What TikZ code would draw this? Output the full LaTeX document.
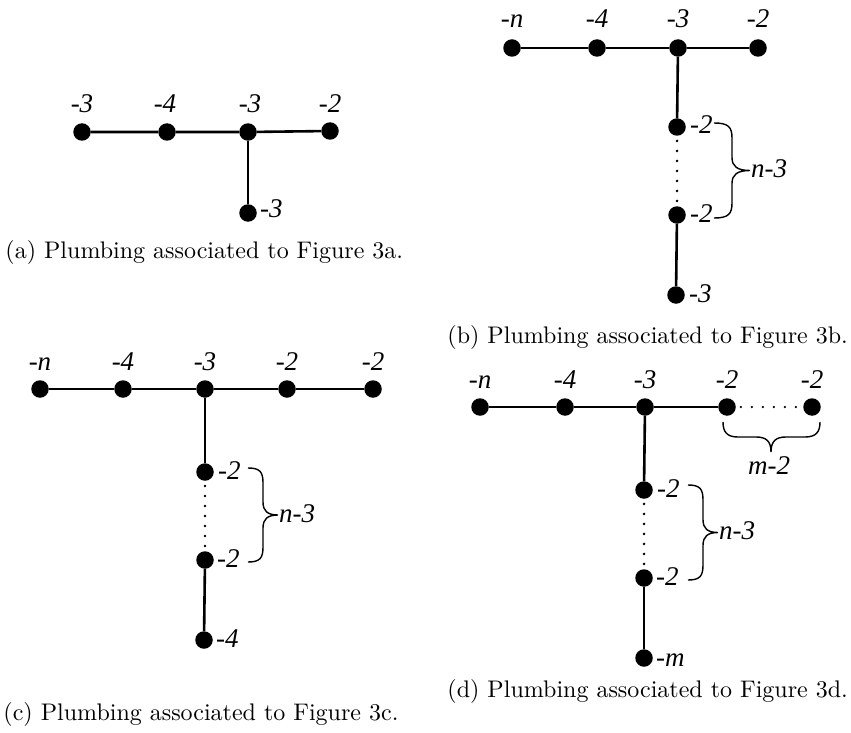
\documentclass[tikz,border=0pt]{standalone}
\usepackage{fontspec}
\newfontfamily\labelfont{Liberation Serif}[ItalicFont={Liberation Serif Italic}]
\tikzset{
  x=1pt, y=-1pt,
  vtx/.style={circle, fill=black, draw=none, inner sep=0pt, minimum size=17.5pt},
  solidedge/.style={line width=2.6pt},
  dotedge/.style={line width=2.9pt, line cap=round, dash pattern=on 0pt off 10pt, shorten <=5pt, shorten >=5pt},
  hdotedge/.style={line width=2.5pt, line cap=round, dash pattern=on 0pt off 11pt, shorten <=5pt, shorten >=4pt},
  bracestyle/.style={line width=1.4pt},
  lbl/.style={font=\labelfont\itshape\fontsize{27}{32}\selectfont, inner sep=0pt},
  toplbl/.style={lbl, anchor=base},
  caption/.style={font=\fontsize{10}{12}\selectfont, scale=2.4, inner sep=0pt, anchor=base west},
}
% vertical curly brace: x, top y, bottom y, depth, label, label name
\newcommand\plumbbrace[6]{%
  \pgfmathsetmacro\brx{#1}\pgfmathsetmacro\brt{#2}\pgfmathsetmacro\brb{#3}\pgfmathsetmacro\bra{#4}%
  \pgfmathsetmacro\brm{(\brt+\brb)/2}\pgfmathsetmacro\brh{\brx+0.5*\bra}\pgfmathsetmacro\brp{\brx+\bra}%
  \draw[bracestyle] (\brx,\brt) .. controls (\brx+0.4*\bra,\brt) and (\brh,\brt+4) .. (\brh,\brt+15)
     -- (\brh,\brm-13) .. controls (\brh,\brm-4) and (\brx+0.65*\bra,\brm) .. (\brp,\brm)
     .. controls (\brx+0.65*\bra,\brm) and (\brh,\brm+4) .. (\brh,\brm+13)
     -- (\brh,\brb-15) .. controls (\brh,\brb-4) and (\brx+0.4*\bra,\brb) .. (\brx,\brb);
  \node[lbl, anchor=base west] (#6) at (\brp+1,\brm+7) {#5};
}
\begin{document}
\begin{tikzpicture}
\useasboundingbox (0,0) rectangle (851,733);

% ---------- (a) ----------
\node[vtx] (a1) at (82,132) {};
\node[vtx] (a2) at (167,132) {};
\node[vtx] (a3) at (248,132) {};
\node[vtx] (a4) at (330,131) {};
\node[vtx] (a5) at (248,213) {};
\draw[solidedge] (a1) -- (a2) -- (a3) -- (a4);
\draw[solidedge] (a3) -- (a5);
\node[toplbl] (la1) at (82,113) {-3};
\node[toplbl] (la2) at (165,113) {-4};
\node[toplbl] (la3) at (250,113) {-3};
\node[toplbl] (la4) at (330,113) {-2};
\node[lbl, anchor=base west] (la5) at (260,217) {-3};
\node[caption] (capa) at (5,258) {(a) Plumbing associated to Figure 3a.};

% ---------- (b) ----------
\node[vtx] (b1) at (512,48) {};
\node[vtx] (b2) at (597,48) {};
\node[vtx] (b3) at (678,48) {};
\node[vtx] (b4) at (758,48) {};
\node[vtx] (b5) at (677,127) {};
\node[vtx] (b6) at (677,215) {};
\node[vtx] (b7) at (676,295) {};
\draw[solidedge] (b1) -- (b2) -- (b3) -- (b4);
\draw[solidedge] (b3) -- (b5);
\draw[dotedge] (b5) -- (b6);
\draw[solidedge] (b6) -- (b7);
\node[toplbl] (lb1) at (512,28) {-n};
\node[toplbl] (lb2) at (597,28) {-4};
\node[toplbl] (lb3) at (678,28) {-3};
\node[toplbl] (lb4) at (758,28) {-2};
\node[lbl, anchor=base west] (lb5) at (690,134) {-2};
\node[lbl, anchor=base west] (lb6) at (690,222) {-2};
\node[lbl, anchor=base west] (lb7) at (689,302) {-3};
\plumbbrace{714}{123}{218}{36}{n-3}{lb8}
\node[caption] (capb) at (447,343) {(b) Plumbing associated to Figure 3b.};

% ---------- (c) ----------
\node[vtx] (c1) at (40,389) {};
\node[vtx] (c2) at (123,389) {};
\node[vtx] (c3) at (205,389) {};
\node[vtx] (c4) at (287,389) {};
\node[vtx] (c5) at (373,389) {};
\node[vtx] (c6) at (205,472) {};
\node[vtx] (c7) at (205,560) {};
\node[vtx] (c8) at (204,640) {};
\draw[solidedge] (c1) -- (c2) -- (c3) -- (c4) -- (c5);
\draw[solidedge] (c3) -- (c6);
\draw[dotedge] (c6) -- (c7);
\draw[solidedge] (c7) -- (c8);
\node[toplbl] (lc1) at (40,370) {-n};
\node[toplbl] (lc2) at (123,370) {-4};
\node[toplbl] (lc3) at (205,370) {-3};
\node[toplbl] (lc4) at (287,370) {-2};
\node[toplbl] (lc5) at (373,370) {-2};
\node[lbl, anchor=base west] (lc6) at (218,479) {-2};
\node[lbl, anchor=base west] (lc7) at (217,567) {-2};
\node[lbl, anchor=base west] (lc8) at (216,647) {-4};
\plumbbrace{248}{468}{562}{30}{n-3}{lc9}
\node[caption] (capc) at (3,720) {(c) Plumbing associated to Figure 3c.};

% ---------- (d) ----------
\node[vtx] (d1) at (480,407) {};
\node[vtx] (d2) at (565,407) {};
\node[vtx] (d3) at (645,407) {};
\node[vtx] (d4) at (727,407) {};
\node[vtx] (d5) at (812,407) {};
\node[vtx] (d6) at (644,490) {};
\node[vtx] (d7) at (644,578) {};
\node[vtx] (d8) at (644,658) {};
\draw[solidedge] (d1) -- (d2) -- (d3) -- (d4);
\draw[hdotedge] (d4) -- (d5);
\draw[solidedge] (d3) -- (d6);
\draw[dotedge] (d6) -- (d7);
\draw[solidedge] (d7) -- (d8);
\node[toplbl] (ld1) at (480,388) {-n};
\node[toplbl] (ld2) at (565,388) {-4};
\node[toplbl] (ld3) at (645,388) {-3};
\node[toplbl] (ld4) at (727,388) {-2};
\node[toplbl] (ld5) at (812,388) {-2};
\node[lbl, anchor=base west] (ld6) at (657,497) {-2};
\node[lbl, anchor=base west] (ld7) at (656,585) {-2};
\node[lbl, anchor=base west] (ld8) at (656,666) {-m};
\plumbbrace{688}{485}{580}{30}{n-3}{ld9}
% brace under the dotted run
\draw[bracestyle] (723,422) .. controls (723,432) and (727,437) .. (738,437) -- (756,437)
   .. controls (766,437) and (771,441) .. (771,452)
   .. controls (771,441) and (776,437) .. (786,437) -- (805,437)
   .. controls (816,437) and (820,432) .. (820,422);
\node[toplbl] (ld10) at (769,474) {m-2};
\node[caption] (capd) at (447,697) {(d) Plumbing associated to Figure 3d.};
\end{tikzpicture}
\end{document}
